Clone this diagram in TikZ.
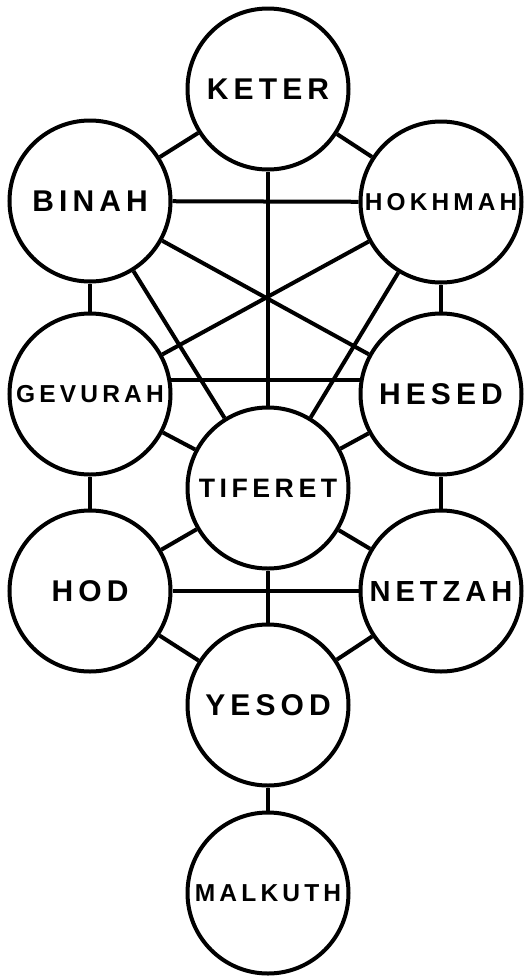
\documentclass[tikz,border=0pt]{standalone}
\usepackage{fontspec}
\newfontfamily\sefirafont[LetterSpace=17]{Liberation Sans}
\tikzset{every picture/.style={line width=0.75pt}}
\tikzset{
  sefira/.style={circle, draw, fill=white, line width=3pt, minimum size=120.75pt, inner sep=0pt,
    font=\sefirafont\bfseries\fontsize{#1}{#1}\selectfont},
  sefira/.default=22.5,
  channel/.style={line width=3pt},
}

\begin{document}
\begin{tikzpicture}[x=0.75pt,y=0.75pt,yscale=-1,xscale=1]
\path[use as bounding box] (0,0) rectangle (526,979);

%Shape: Circle
\node[sefira] (keter) at (268,89) {KETER};
%Shape: Circle
\node[sefira] (binah) at (90,201) {BINAH};
%Shape: Circle
\node[sefira=18.3] (hokhmah) at (441,202) {HOKHMAH};
%Shape: Circle
\node[sefira=18.4] (gevurah) at (90,394) {GEVURAH};
%Shape: Circle
\node[sefira] (hesed) at (441,394) {HESED};
%Shape: Circle
\node[sefira=20] (tiferet) at (268,488) {TIFERET};
%Shape: Circle
\node[sefira] (hod) at (90,591) {HOD};
%Shape: Circle
\node[sefira=21.8] (netzah) at (441,591) {NETZAH};
%Shape: Circle
\node[sefira] (yesod) at (268,705) {YESOD};
%Shape: Circle
\node[sefira=18.4] (malkuth) at (268,893) {MALKUTH};

%Straight Lines
\draw[channel] (keter) -- (binah);
\draw[channel] (keter) -- (hokhmah);
\draw[channel] (keter) -- (tiferet);
\draw[channel] (binah) -- (hokhmah);
\draw[channel] (binah) -- (gevurah);
\draw[channel] (hokhmah) -- (hesed);
\draw[channel] (binah) -- (hesed);
\draw[channel] (hokhmah) -- (gevurah);
\draw[channel] (binah) -- (tiferet);
\draw[channel] (hokhmah) -- (tiferet);
\draw[channel] (gevurah.10) -- (hesed.170);
\draw[channel] (gevurah) -- (tiferet);
\draw[channel] (hesed) -- (tiferet);
\draw[channel] (gevurah) -- (hod);
\draw[channel] (hesed) -- (netzah);
\draw[channel] (tiferet) -- (hod);
\draw[channel] (tiferet) -- (netzah);
\draw[channel] (tiferet) -- (yesod);
\draw[channel] (hod) -- (netzah);
\draw[channel] (hod) -- (yesod);
\draw[channel] (netzah) -- (yesod);
\draw[channel] (yesod) -- (malkuth);

\end{tikzpicture}
\end{document}
